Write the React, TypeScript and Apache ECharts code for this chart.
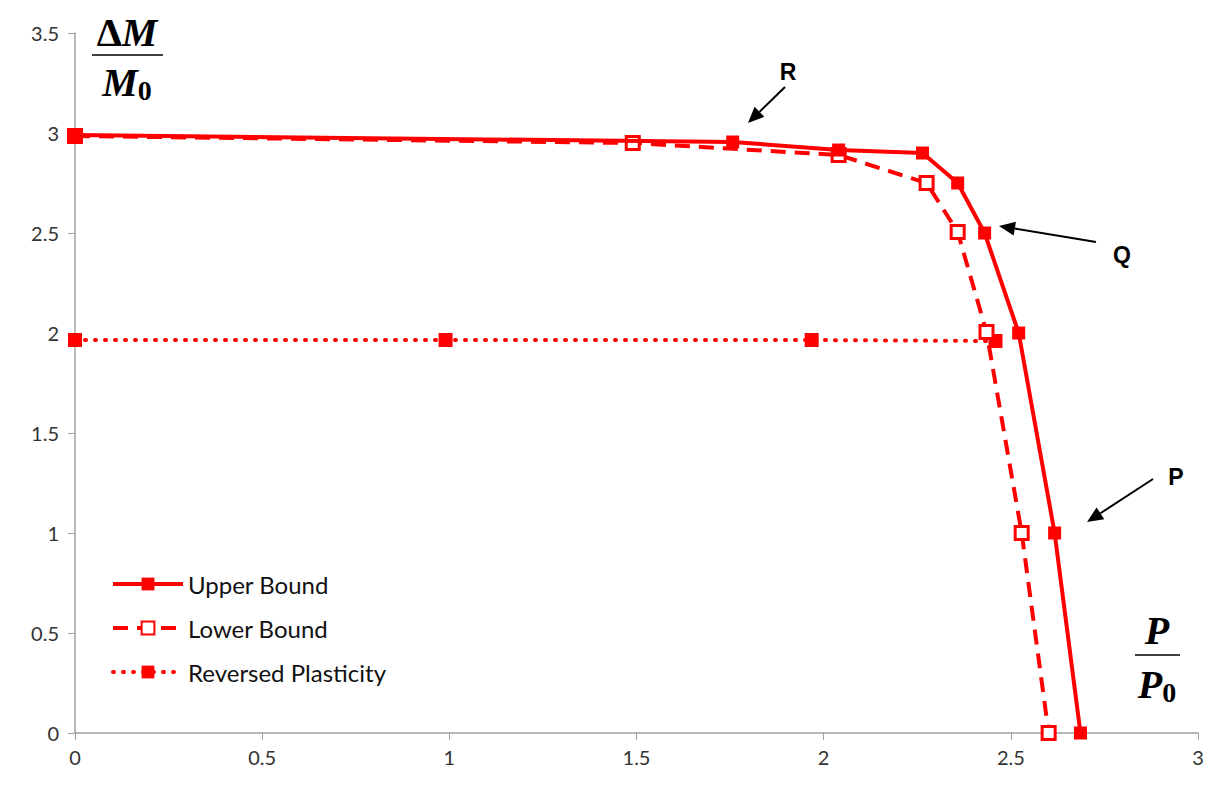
import React, { useEffect, useRef } from "react";
import * as echarts from "echarts";

const upperX = [0, 1.757, 2.04, 2.264, 2.358, 2.43, 2.521, 2.617, 2.686];
const upperY = [2.99, 2.955, 2.915, 2.9, 2.75, 2.5, 2.0, 1.0, 0];
const lowerX = [0, 1.49, 2.04, 2.275, 2.358, 2.435, 2.529, 2.601];
const lowerY = [2.985, 2.95, 2.89, 2.75, 2.505, 2.005, 1.0, 0];
const revX = [0, 0.99, 1.968, 2.459];
const revY = [1.965, 1.965, 1.965, 1.96];
const xTicks = [0, 0.5, 1, 1.5, 2, 2.5, 3];
const yTicks = [0, 0.5, 1, 1.5, 2, 2.5, 3, 3.5];

const zip = (xs: number[], ys: number[]) => xs.map((x, i) => [x, ys[i]]);

function arrow(x1: number, y1: number, x2: number, y2: number) {
  const ang = Math.atan2(y2 - y1, x2 - x1);
  const len = 16, half = 7;
  const bx = x2 - len * Math.cos(ang), by = y2 - len * Math.sin(ang);
  const px = -Math.sin(ang), py = Math.cos(ang);
  return [
    { type: "line", shape: { x1, y1, x2: bx, y2: by }, style: { stroke: "#000", lineWidth: 2 } },
    {
      type: "polygon",
      shape: { points: [[x2, y2], [bx + px * half, by + py * half], [bx - px * half, by - py * half]] },
      style: { fill: "#000" },
    },
  ];
}

export default function App() {
  const ref = useRef<HTMLDivElement>(null);
  useEffect(() => {
    const chart = echarts.init(ref.current!, null, { renderer: "svg" });
    const red = "#ff0000";
    const serif = "Liberation Serif";
    const fracRich = {
      d: { font: `bold 40px "${serif}"`, fill: "#000" },
      a: { font: `italic bold 40px "${serif}"`, fill: "#000" },
      b: { font: `bold 28px "${serif}"`, fill: "#000", padding: [16, 0, 0, 0] },
    };
    chart.setOption({
      animation: false,
      backgroundColor: "#fff",
      grid: { left: 75, right: 14, top: 33, bottom: 60 },
      xAxis: {
        type: "value", min: 0, max: 3, interval: 0.5,
        axisLine: { lineStyle: { color: "#a0a0a0", width: 1.5 } },
        axisTick: { show: true, length: 7, lineStyle: { color: "#a0a0a0" } },
        splitLine: { show: false },
        axisLabel: { color: "#333", fontSize: 20, fontFamily: "Lato", margin: 14, formatter: (v: number) => String(v) },
      },
      yAxis: {
        type: "value", min: 0, max: 3.5, interval: 0.5,
        axisLine: { show: true, lineStyle: { color: "#a0a0a0", width: 1.5 } },
        axisTick: { show: true, length: 7, lineStyle: { color: "#a0a0a0" } },
        splitLine: { show: false },
        axisLabel: { color: "#333", fontSize: 20, fontFamily: "Lato", margin: 16, formatter: (v: number) => String(v) },
      },
      legend: {
        orient: "vertical", left: 106, top: 567, itemWidth: 70, itemHeight: 16, itemGap: 20,
        textStyle: { fontSize: 24, fontFamily: "Lato", color: "#111", padding: [0, 0, 0, 0] },
        lineStyle: { width: 4 },
        data: ["Upper Bound", "Lower Bound", "Reversed Plasticity"],
      },
      series: [
        {
          name: "Upper Bound", type: "line", data: zip(upperX, upperY), symbol: "rect", symbolSize: 13,
          lineStyle: { color: red, width: 4 }, itemStyle: { color: red }, z: 3,
        },
        {
          name: "Lower Bound", type: "line", data: zip(lowerX, lowerY), symbol: "rect", symbolSize: 13,
          lineStyle: { color: red, width: 4, type: [15, 9] },
          itemStyle: { color: "#fff", borderColor: red, borderWidth: 3 }, z: 2,
        },
        {
          name: "Reversed Plasticity", type: "line", data: zip(revX, revY), symbol: "rect", symbolSize: 14,
          lineStyle: { color: red, width: 4, type: [1, 9], cap: "round" }, itemStyle: { color: red }, z: 1,
        },
      ],
      graphic: [
        { type: "text", x: 127, y: 52, style: { text: "{d|Δ}{a|M}", rich: fracRich, align: "center", verticalAlign: "bottom" } },
        { type: "line", shape: { x1: 92, y1: 55, x2: 163, y2: 55 }, style: { stroke: "#000", lineWidth: 1.5 } },
        { type: "text", x: 127, y: 60, style: { text: "{a|M}{b|0}", align: "center", verticalAlign: "top", rich: fracRich } },
        { type: "text", x: 1157, y: 650, style: { text: "{a|P}", rich: fracRich, align: "center", verticalAlign: "bottom" } },
        { type: "line", shape: { x1: 1135, y1: 655, x2: 1180, y2: 655 }, style: { stroke: "#000", lineWidth: 1.5 } },
        { type: "text", x: 1157, y: 662, style: { text: "{a|P}{b|0}", align: "center", verticalAlign: "top", rich: fracRich } },
        { type: "text", x: 788, y: 72, style: { text: "R", font: 'bold 23px "Liberation Sans"', fill: "#000", align: "center", verticalAlign: "middle" } },
        { type: "text", x: 1122, y: 255, style: { text: "Q", font: 'bold 23px "Liberation Sans"', fill: "#000", align: "center", verticalAlign: "middle" } },
        { type: "text", x: 1176, y: 477, style: { text: "P", font: 'bold 23px "Liberation Sans"', fill: "#000", align: "center", verticalAlign: "middle" } },
        ...arrow(785, 87, 748, 123),
        ...arrow(1096, 242, 999, 226),
        ...arrow(1153, 479, 1087, 522),
      ],
    });
    return () => chart.dispose();
  }, []);
  return <div ref={ref} style={{ position: "fixed", left: 0, top: 0, width: 1212, height: 793 }} />;
}
